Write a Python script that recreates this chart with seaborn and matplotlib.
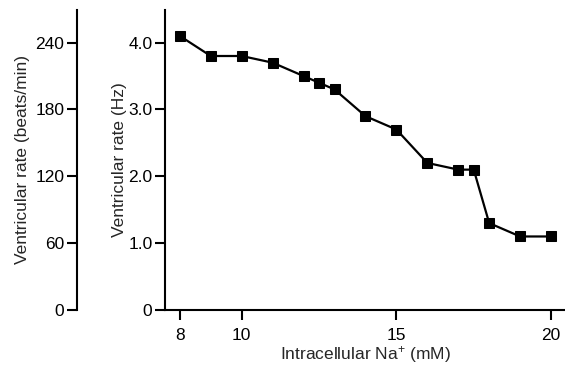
import matplotlib
matplotlib.use("Agg")

import matplotlib.pyplot as plt
import numpy as np
import pandas as pd
import seaborn as sns

# data
na_mM = [8, 9, 10, 11, 12, 12.5, 13, 14, 15, 16, 17, 17.5, 18, 19, 20]
rate_hz = [4.1, 3.8, 3.8, 3.7, 3.5, 3.4, 3.3, 2.9, 2.7, 2.2, 2.1, 2.1, 1.3, 1.1, 1.1]

hz_ticks = [0, 1.0, 2.0, 3.0, 4.0]
hz_labels = ["0", "1.0", "2.0", "3.0", "4.0"]
bpm_ticks = [0, 60, 120, 180, 240]
x_ticks = [8, 10, 15, 20]

df = pd.DataFrame({"na": na_mM, "rate": rate_hz})

sns.set_theme(style="ticks")
plt.rcParams["font.family"] = ["Liberation Sans", "DejaVu Sans"]
plt.rcParams["mathtext.fontset"] = "custom"
plt.rcParams["mathtext.rm"] = "Liberation Sans"
plt.rcParams["mathtext.it"] = "Liberation Sans:italic"

fs = 12.5
fig = plt.figure(figsize=(5.65, 3.66), dpi=100)
ax = fig.add_axes([0.292, 0.153, 0.708, 0.82])

sns.lineplot(data=df, x="na", y="rate", ax=ax, color="black", linewidth=1.6,
             marker="s", markersize=7.5, markeredgecolor="black")

ax.set_xlim(7.52, 20.45)
ymax = 4.49
ax.set_ylim(0, ymax)
ax.set_xticks(x_ticks)
ax.set_yticks(hz_ticks)
ax.set_yticklabels(hz_labels)
ax.set_xlabel("Intracellular Na$^{+}$ (mM)", fontsize=fs, labelpad=1)
ax.set_ylabel("Ventricular rate (Hz)", fontsize=fs, labelpad=1)
for s in ["top", "right"]:
    ax.spines[s].set_visible(False)
for s in ["left", "bottom"]:
    ax.spines[s].set_linewidth(1.5)
    ax.spines[s].set_color("black")
ax.tick_params(axis="both", direction="out", length=7, width=1.5,
               labelsize=fs, colors="black", pad=2)
ax.tick_params(axis="x", pad=6)

# second scale in beats/min
ax2 = fig.add_axes([0.136, 0.153, 0.001, 0.82])
ax2.set_ylim(0, ymax * 60)
ax2.set_yticks(bpm_ticks)
ax2.set_xticks([])
for s in ["top", "right", "bottom"]:
    ax2.spines[s].set_visible(False)
ax2.spines["left"].set_linewidth(1.5)
ax2.spines["left"].set_color("black")
ax2.tick_params(axis="y", direction="out", length=7, width=1.5,
                labelsize=fs, colors="black", pad=2)
ax2.set_ylabel("Ventricular rate (beats/min)", fontsize=fs, labelpad=4)
ax2.patch.set_visible(False)

fig.savefig("out.png", dpi=100)
